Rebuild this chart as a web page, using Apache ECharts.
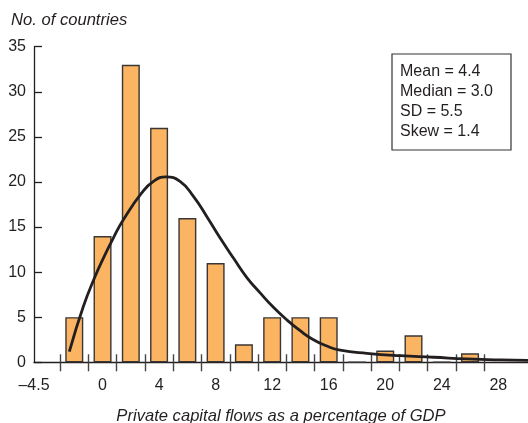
<!DOCTYPE html>
<html>
<head>
<meta charset="utf-8">
<style>
  html, body { margin: 0; padding: 0; background: #fff; }
  #chart { width: 528px; height: 423px; }
</style>
<script src="https://cdn.jsdelivr.net/npm/echarts@6/dist/echarts.min.js"></script>
</head>
<body>
<div id="chart"></div>
<script>
// Histogram bins (bin centres, width 2) and number of countries in each
const binCenters = [-2, 0, 2, 4, 6, 8, 10, 12, 14, 16, 18, 20, 22, 24, 26];
const binCounts  = [5, 14, 33, 26, 16, 11, 2, 5, 5, 5, 0, 1.3, 3, 0, 1];

// Fitted density curve, scaled to counts
const curveX = [-2.35, -1.36, -0.53, 0.06, 0.76, 1.47, 2.77, 3.6, 4.49, 5.48, 6.43, 7.37, 8.32, 9.26,
                10.21, 11.15, 12.09, 13.04, 13.98, 14.92, 15.87, 16.81, 18.7, 21.05, 23.41, 25.78, 28.13, 30.1];
const curveY = [1.18, 6.18, 9.51, 11.56, 13.78, 15.81, 18.78, 20.07, 20.56, 20.07, 18.4, 16.18, 13.78, 11.56,
                9.4, 7.7, 6.1, 4.7, 3.5, 2.5, 1.8, 1.35, 1.0, 0.73, 0.56, 0.37, 0.26, 0.22];

// Axis ticks and labels
const xMin = -4.85, xMax = 30.1;
const xLabelValues = [xMin, 0, 4, 8, 12, 16, 20, 24, 28];
const xTickValues = [-3, -1, 1, 3, 5, 7, 9, 11, 13, 15, 17, 19, 21, 23, 25, 27];
const yTicks = [0, 5, 10, 15, 20, 25, 30, 35];

// Summary statistics shown in the box
const statLines = ['Mean = 4.4', 'Median = 3.0', 'SD = 5.5', 'Skew = 1.4'];

const FONT = '"Liberation Sans", Arial, Helvetica, sans-serif';
const INK = '#231f20';

const chart = echarts.init(document.getElementById('chart'), null, { renderer: 'canvas' });

const baseX = {
  type: 'value', min: xMin, max: xMax,
  splitLine: { show: false }
};

chart.setOption({
  animation: false,
  backgroundColor: '#fff',
  textStyle: { fontFamily: FONT },
  title: {
    text: 'No. of countries',
    left: 6, top: 7,
    textStyle: { fontFamily: FONT, fontStyle: 'italic', fontWeight: 'normal', fontSize: 16.6, color: INK }
  },
  grid: { left: 34, right: 0, top: 46.7, bottom: 60.7, containLabel: false, outerBoundsMode: 'none' },
  xAxis: [
    Object.assign({}, baseX, {
      position: 'bottom',
      name: 'Private capital flows as a percentage of GDP',
      nameLocation: 'middle',
      nameGap: 46,
      nameTextStyle: { fontFamily: FONT, fontStyle: 'italic', fontSize: 16.6, color: INK },
      axisLine: { show: true, onZero: false, lineStyle: { color: INK, width: 1.3 } },
      axisTick: { show: true, inside: false, length: 9, customValues: xTickValues,
                  lineStyle: { color: '#444', width: 1.4 } },
      axisLabel: {
        customValues: xLabelValues,
        margin: 15,
        fontFamily: FONT, fontSize: 16, color: INK,
        formatter: v => (v < -4 ? '\u20134.5' : String(v))
      }
    }),
    Object.assign({}, baseX, {
      position: 'bottom',
      axisLine: { show: false, onZero: false },
      axisTick: { show: true, inside: true, length: 8, customValues: xTickValues,
                  lineStyle: { color: '#444', width: 1.4 } },
      axisLabel: { show: false }
    })
  ],
  yAxis: {
    type: 'value', min: 0, max: 35, interval: 5,
    position: 'left',
    splitLine: { show: false },
    axisLine: { show: true, onZero: false, lineStyle: { color: INK, width: 1.3 } },
    axisTick: { show: true, inside: true, length: 8, lineStyle: { color: INK, width: 1.3 } },
    axisLabel: {
      margin: 8, fontFamily: FONT, fontSize: 16, color: INK,
      formatter: v => (yTicks.indexOf(v) >= 0 ? String(v) : '')
    }
  },
  series: [
    {
      type: 'bar',
      xAxisIndex: 0,
      barWidth: 18,
      data: binCenters.map((c, i) => [c, binCounts[i]]),
      itemStyle: { color: '#fbb462', borderColor: '#3a3634', borderWidth: 1.4 },
      z: 2
    },
    {
      type: 'line',
      xAxisIndex: 0,
      smooth: 0.5,
      showSymbol: false,
      data: curveX.map((x, i) => [x, curveY[i]]),
      lineStyle: { color: INK, width: 2.8 },
      z: 3
    }
  ],
  graphic: [
    {
      type: 'rect',
      shape: { x: 392, y: 54, width: 119, height: 96 },
      style: { fill: '#fff', stroke: '#333', lineWidth: 1.2 },
      z: 10
    },
    {
      type: 'text',
      left: 400, top: 61,
      style: {
        text: statLines.join('\n'),
        font: '16px ' + FONT,
        fill: INK,
        lineHeight: 20.3
      },
      z: 11
    }
  ]
});
</script>
</body>
</html>
